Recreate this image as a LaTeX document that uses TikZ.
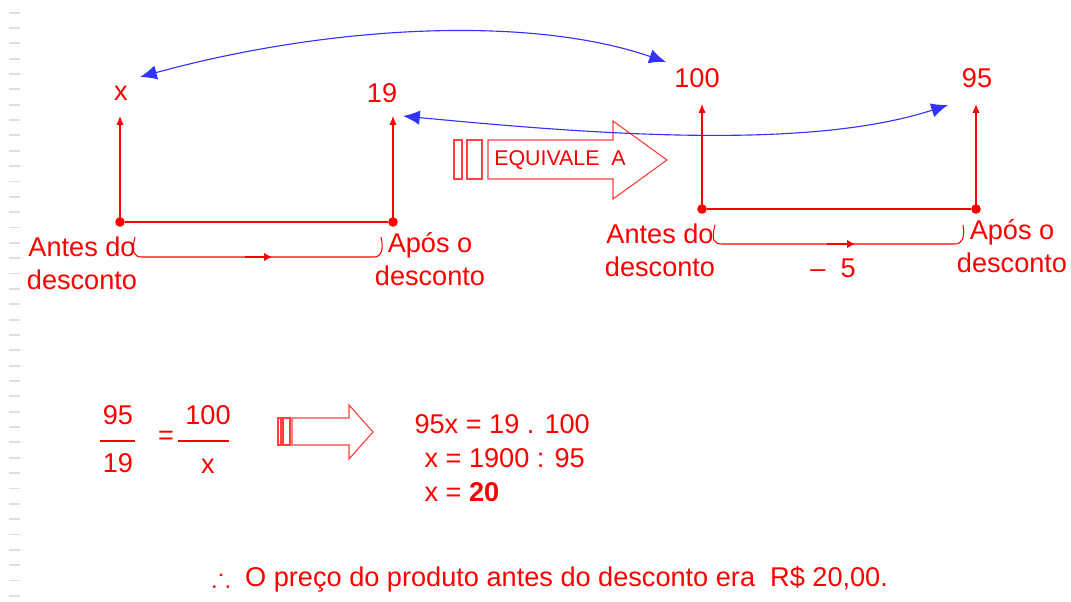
\documentclass[tikz,border=0pt]{standalone}
\usepackage{amssymb}
\usepackage{fontspec}
\setmainfont{Liberation Sans}
\usetikzlibrary{arrows.meta,positioning,calc}

\begin{document}
\begin{tikzpicture}[
    x=0.025cm, y=-0.025cm,
    line width=0.75pt,
    every node/.style={text=red, inner sep=0pt, font=\fontsize{19.3}{23.4}\selectfont},
    lbl/.style={align=center},
    dot/.style={circle, fill=red, minimum size=0.24cm},
    up/.style={red, -{Latex[length=2.2mm,width=1.8mm]}},
    link/.style={blue!80, line width=0.8pt, {Latex[length=4.2mm,width=3.6mm]}-{Latex[length=4.2mm,width=3.6mm]}},
    blockarrow/.style={draw=red!75, line width=0.8pt}
]
    \useasboundingbox (0,0) rectangle (1071,602);
    \fill[white] (0,0) rectangle (1071,602);

    % margin ticks
    \foreach \k in {0,...,38}
        \draw[gray!25, line width=1.3pt] (9,12.6+15.35*\k) -- (20,12.6+15.35*\k);

    % Left scheme - x and 19
    \node[dot] (a1) at (120,222) {};
    \node[dot] (b1) at (393,222) {};
    \node (vx) at (121,93) {x};
    \node (v19) at (382,93) {19};
    \coordinate (ta1) at (120,116);
    \coordinate (tb1) at (393,116);
    \draw[red] (a1) -- (b1);
    \draw[up] (a1.center) -- (ta1);
    \draw[up] (b1.center) -- (tb1);
    \node[lbl] (ante1) at (82,263) {Antes do\\desconto};
    \node[lbl] (apos1) at (430,259) {Após o\\desconto};
    \draw[red] (135,237) .. controls (131,252) and (134,257) .. (142,257) -- (374,257)
        .. controls (381,257) and (384,250) .. (381,237);
    \draw[red, line width=1.6pt, -{Latex[length=2mm,width=2.2mm]}] (245,257) -- (272,257);

    % Right scheme - 100 and 95
    \node[dot] (a2) at (702,209) {};
    \node[dot] (b2) at (976,209) {};
    \node (v100) at (697,78) {100};
    \node (v95) at (977,78) {95};
    \coordinate (ta2) at (702,104);
    \coordinate (tb2) at (976,104);
    \draw[red] (a2) -- (b2);
    \draw[up] (a2.center) -- (ta2);
    \draw[up] (b2.center) -- (tb2);
    \node[lbl] (ante2) at (660,250) {Antes do\\desconto};
    \node[lbl] (apos2) at (1012,246) {Após o\\desconto};
    \draw[red] (715,225) .. controls (711,240) and (714,244) .. (722,244) -- (955,244)
        .. controls (962,244) and (965,238) .. (963,225);
    \draw[red, line width=1.6pt, -{Latex[length=2mm,width=2.2mm]}] (827,244) -- (855,244);
    \node (menos5) at (833,268) {–\ \ 5};

    % EQUIVALE A arrow
    \draw[blockarrow] (454,140) rectangle (462,179);
    \draw[blockarrow] (467,140) rectangle (482,179);
    \draw[blockarrow] (488,140) -- (613,140) -- (613,121) -- (667,160) -- (613,199)
        -- (613,179) -- (488,179) -- cycle;
    \node[font=\fontsize{15.2}{17}\selectfont] (equiv) at (560,160) {EQUIVALE\ \ A};

    % correspondences
    \coordinate (px) at (140,77);
    \coordinate (p100) at (666,62);
    \coordinate (p19) at (403,116);
    \coordinate (p95) at (948,105);
    \draw[link] (px) .. controls (330,25) and (530,15) .. (p100);
    \draw[link] (p19) .. controls (600,135) and (810,150) .. (p95);

    % proportion
    \node (n95) at (118,415) {95};
    \node (d19) at (118,463) {19};
    \draw[red] (100,441) -- (135,441);
    \node (igual) at (166,438) {=};
    \node (n100) at (208,415) {100};
    \node (dx) at (208,466) {x};
    \draw[red] (178,441) -- (229,441);

    \draw[blockarrow] (278,418) rectangle (281,445);
    \draw[blockarrow] (283,418) rectangle (290,445);
    \draw[blockarrow] (292,418) -- (349,418) -- (349,405) -- (373,432) -- (349,459)
        -- (349,445) -- (292,445) -- cycle;

    \node[anchor=west] (e1) at (414,424) {95x = 19 . 100};
    \node[anchor=west] (e2) at (424,458) {x = 1900 : 95};
    \node[anchor=west] (e3) at (424,492) {x = \textbf{20}};

    \node (concl) at (550,579) {$\therefore$\ \ O preço do produto antes do desconto era\ \ R\$ 20,00.};
\end{tikzpicture}
\end{document}
